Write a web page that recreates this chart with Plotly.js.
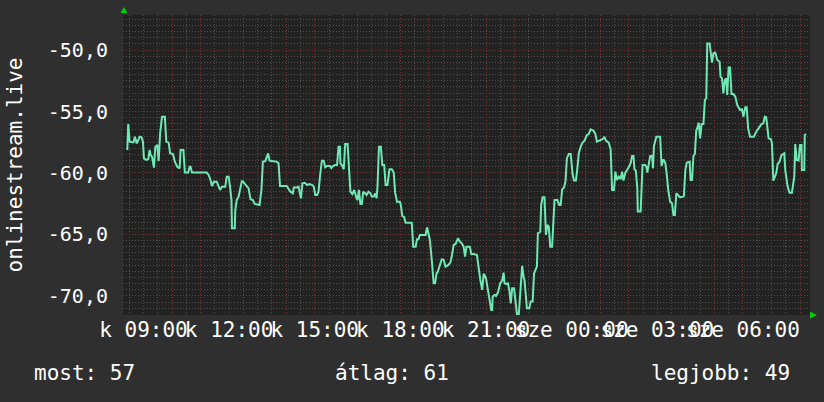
<!DOCTYPE html>
<html>
<head>
<meta charset="utf-8">
<script src="https://cdn.plot.ly/plotly-3.0.1.min.js"></script>
<style>
  html, body { margin: 0; padding: 0; background: #2f2f2f; }
  #chart { width: 824px; height: 402px; }
</style>
</head>
<body>
<div id="chart"></div>
<script>
// time in minutes since midnight of the first day (kedd); > 1440 is the next day (szerda)
const minutes = [
  504,506,508,511,519,522,526,532,536,539,541,546,550,553,555,558,562,565,569,572,
  575,579,585,588,593,596,602,606,611,616,618,624,627,634,637,639,642,673,677,681,
  684,688,694,698,701,705,712,715,719,722,725,726,732,733,736,740,744,747,751,756,
  761,765,770,774,784,788,791,796,802,805,820,824,827,841,849,854,856,862,866,871,
  874,879,884,889,895,898,901,905,908,911,915,919,922,926,932,935,937,943,947,950,
  953,954,957,961,964,969,972,975,979,983,988,990,993,996,999,1002,1006,1009,1013,1017,
  1020,1024,1027,1030,1032,1035,1039,1042,1046,1049,1053,1057,1062,1066,1069,1073,1079,1081,1084,1088,
  1091,1104,1107,1112,1115,1118,1121,1133,1136,1139,1142,1146,1150,1153,1156,1158,1163,1167,1171,1175,
  1181,1185,1188,1192,1196,1201,1205,1209,1213,1216,1219,1226,1229,1234,1241,1245,1248,1252,1255,1257,
  1260,1264,1267,1271,1273,1274,1278,1281,1285,1290,1294,1297,1299,1302,1306,1309,1312,1315,1319,1322,
  1325,1329,1332,1336,1339,1341,1346,1351,1354,1358,1361,1364,1367,1369,1374,1376,1379,1383,1386,1389,
  1392,1395,1399,1402,1404,1410,1414,1417,1420,1424,1427,1430,1434,1438,1442,1445,1449,1452,1455,1459,
  1463,1467,1472,1476,1480,1486,1490,1493,1500,1505,1509,1512,1518,1522,1525,1529,1532,1535,1539,1543,
  1546,1549,1553,1556,1560,1564,1567,1570,1572,1575,1578,1579,1585,1587,1589,1594,1597,1599,1602,1605,
  1609,1611,1613,1618,1626,1629,1633,1637,1640,1643,1647,1651,1654,1657,1660,1664,1668,1674,1676,1679,
  1682,1688,1690,1693,1696,1699,1702,1704,1707,1710,1713,1717,1720,1723,1725,1730,1732,1735,1738,1742,
  1746,1751,1753,1756,1759,1762,1765,1767,1770,1773,1776,1780,1784,1788,1794,1798,1801,1805,1808,1811,
  1815,1823,1828,1833,1839,1843,1846,1849,1852,1854,1859,1861,1864,1867,1870,1873,1877,1881,1887,1889,
  1894,1898,1903,1908,1910,1913,1917,1920,1923,1924,1929,1930,1933
];
const values = [
  -58.05,-58.05,-56.02,-57.45,-57.51,-57.05,-57.59,-57.05,-57.10,-57.45,-58.81,-58.94,-58.89,-58.13,-58.54,-58.67,-59.57,-57.86,-57.72,-59.03,
  -56.78,-55.42,-55.42,-57.45,-57.53,-58.40,-58.46,-59.08,-59.49,-59.62,-58.13,-58.13,-59.97,-59.97,-59.49,-59.49,-59.97,-59.97,-60.16,-60.57,
  -61.06,-60.71,-60.71,-61.06,-61.38,-61.11,-61.11,-60.30,-60.30,-61.11,-62.20,-64.50,-64.50,-63.01,-62.20,-61.92,-61.17,-60.62,-60.79,-61.06,
  -61.25,-62.14,-62.20,-62.52,-62.60,-61.38,-59.08,-59.03,-58.40,-59.00,-59.08,-59.21,-61.06,-61.06,-61.52,-61.65,-61.17,-61.17,-61.11,-62.06,
  -60.84,-60.80,-60.98,-60.90,-60.98,-61.11,-61.79,-61.79,-61.52,-60.30,-59.00,-59.00,-59.54,-59.43,-59.43,-59.59,-59.48,-59.35,-59.35,-57.86,
  -57.86,-59.21,-59.35,-59.70,-57.64,-57.64,-59.21,-61.52,-61.71,-61.38,-62.06,-62.20,-61.38,-62.52,-62.52,-61.52,-61.65,-61.79,-61.52,-61.65,
  -61.92,-61.92,-61.65,-62.06,-61.06,-57.86,-57.86,-59.35,-59.35,-60.98,-60.98,-59.70,-59.70,-59.97,-61.60,-62.33,-62.33,-62.60,-63.50,-63.60,
  -64.04,-64.04,-65.99,-65.99,-65.39,-65.39,-65.04,-65.04,-64.42,-65.12,-65.45,-67.07,-68.97,-68.97,-68.16,-68.10,-67.48,-67.02,-67.07,-67.62,
  -67.48,-67.29,-66.80,-65.85,-65.77,-65.31,-65.58,-65.72,-65.99,-66.80,-65.99,-65.99,-66.59,-66.59,-66.67,-68.16,-68.70,-69.51,-68.21,-68.30,
  -68.56,-69.51,-70.38,-71.14,-71.14,-70.05,-69.92,-70.00,-69.73,-68.97,-68.75,-68.10,-68.97,-69.02,-68.97,-69.51,-70.60,-69.38,-69.38,-70.46,
  -71.46,-71.46,-69.65,-67.56,-68.43,-68.75,-71.00,-71.00,-70.46,-70.46,-68.16,-67.83,-67.61,-64.91,-64.78,-62.60,-61.98,-61.98,-65.04,-64.23,
  -64.36,-65.99,-65.99,-63.69,-62.20,-62.20,-62.60,-62.60,-61.33,-61.17,-60.70,-58.81,-58.45,-58.45,-60.08,-60.62,-60.62,-59.62,-58.40,-57.86,
  -57.53,-57.37,-56.91,-56.83,-56.45,-56.56,-56.83,-57.45,-57.37,-57.26,-57.05,-57.37,-57.53,-58.08,-61.38,-61.38,-59.89,-60.57,-60.30,-60.51,
  -59.89,-60.62,-59.97,-59.81,-59.54,-59.21,-58.62,-58.62,-59.70,-59.81,-61.25,-63.14,-63.14,-61.25,-59.35,-59.35,-59.49,-59.97,-59.43,-58.62,
  -58.62,-59.62,-57.80,-57.05,-57.05,-59.43,-58.89,-59.21,-60.16,-61.38,-62.33,-62.47,-63.41,-63.41,-61.65,-61.79,-61.98,-61.92,-61.87,-59.76,
  -59.16,-59.08,-60.57,-60.57,-58.62,-58.45,-56.50,-56.37,-55.91,-57.18,-56.02,-56.02,-54.06,-53.93,-49.46,-49.46,-50.27,-51.03,-50.27,-50.22,
  -50.81,-50.95,-52.17,-52.30,-53.52,-52.44,-52.30,-53.66,-51.41,-51.41,-53.58,-53.58,-53.79,-54.47,-54.88,-54.82,-55.42,-54.66,-54.66,-56.37,
  -57.05,-57.05,-56.64,-56.37,-56.02,-55.96,-55.42,-55.47,-56.37,-57.18,-57.26,-57.59,-60.62,-60.30,-60.03,-59.27,-59.08,-58.54,-58.40,-59.76,
  -61.11,-61.60,-61.60,-60.30,-57.64,-58.94,-58.99,-57.72,-57.72,-59.76,-59.76,-56.91,-56.83
];

const xLabelMinutes = [540, 720, 900, 1080, 1260, 1440, 1620, 1800];
const xLabels = ['k 09:00', 'k 12:00', 'k 15:00', 'k 18:00', 'k 21:00', 'sze 00:00', 'sze 03:00', 'sze 06:00'];
const yTicks = [-70, -65, -60, -55, -50];
const yTickLabels = ['-70,0', '-65,0', '-60,0', '-55,0', '-50,0'];
const axisTitle = 'onlinestream.live';
const summary = ['most: 57', 'átlag: 61', 'legjobb: 49'];

// hourly major grid, labels only every 3 hours
const hourTicks = [];
const hourText = [];
for (let m = 540; m <= 1920; m += 60) {
  hourTicks.push(m);
  const i = xLabelMinutes.indexOf(m);
  hourText.push(i >= 0 ? xLabels[i] : '');
}

const FONT = 'DejaVu Sans Mono, monospace';
const W = 824, H = 402;
const M = {l: 123, r: 14, t: 15, b: 87};
const pw = W - M.l - M.r, ph = H - M.t - M.b;
const px = x => (x - M.l) / pw;          // pixel x -> paper
const py = y => (H - M.b - y) / ph;      // pixel y -> paper

const trace = {
  x: minutes, y: values, type: 'scatter', mode: 'lines',
  line: {color: '#6fe8b4', width: 2, shape: 'linear'},
  hoverinfo: 'skip'
};

const legendFont = {family: FONT, size: 21, color: '#ffffff'};

const layout = {
  width: W, height: H,
  margin: M,
  paper_bgcolor: '#2f2f2f',
  plot_bgcolor: '#222222',
  showlegend: false,
  font: {family: FONT, size: 20, color: '#ffffff'},
  xaxis: {
    range: [497, 1941],
    tickmode: 'array', tickvals: hourTicks, ticktext: hourText,
    tickangle: 0,
    ticks: '', ticklabelstandoff: 0,
    showgrid: true, gridcolor: '#7a3434', griddash: '1px,2px', gridwidth: 1,
    minor: {tickmode: 'linear', tick0: 0, dtick: 30, showgrid: true, gridcolor: '#505050', griddash: '1px,2px', ticks: ''},
    zeroline: false, showline: false,
    tickfont: {family: FONT, size: 21, color: '#ffffff'},
    fixedrange: true
  },
  yaxis: {
    range: [-71.55, -47.15],
    tickmode: 'array', tickvals: yTicks, ticktext: yTickLabels,
    ticks: 'outside', ticklen: 10, tickcolor: 'rgba(0,0,0,0)',
    showgrid: true, gridcolor: '#7a3434', griddash: '1px,2px', gridwidth: 1,
    minor: {tickmode: 'linear', tick0: 0, dtick: 0.5, showgrid: true, gridcolor: '#505050', griddash: '1px,2px', ticks: ''},
    zeroline: false, showline: false,
    tickfont: {family: FONT, size: 20, color: '#ffffff'},
    title: {text: axisTitle, font: {family: FONT, size: 21, color: '#ffffff'}, standoff: 19},
    fixedrange: true
  },
  shapes: [
    {type: 'path', xref: 'paper', yref: 'paper',
     path: `M ${px(120.5)} ${py(13)} L ${px(127.5)} ${py(13)} L ${px(124)} ${py(7)} Z`,
     fillcolor: '#00cc00', line: {width: 0}},
    {type: 'path', xref: 'paper', yref: 'paper',
     path: `M ${px(810)} ${py(311.5)} L ${px(810)} ${py(318.5)} L ${px(817)} ${py(315)} Z`,
     fillcolor: '#00cc00', line: {width: 0}}
  ],
  annotations: [
    {text: summary[0], xref: 'paper', yref: 'paper', x: px(32), y: py(373), xanchor: 'left', yanchor: 'middle', showarrow: false, font: legendFont},
    {text: summary[1], xref: 'paper', yref: 'paper', x: px(333), y: py(373), xanchor: 'left', yanchor: 'middle', showarrow: false, font: legendFont},
    {text: summary[2], xref: 'paper', yref: 'paper', x: px(649), y: py(373), xanchor: 'left', yanchor: 'middle', showarrow: false, font: legendFont}
  ]
};

Plotly.newPlot('chart', [trace], layout, {staticPlot: true, displayModeBar: false});
</script>
</body>
</html>
